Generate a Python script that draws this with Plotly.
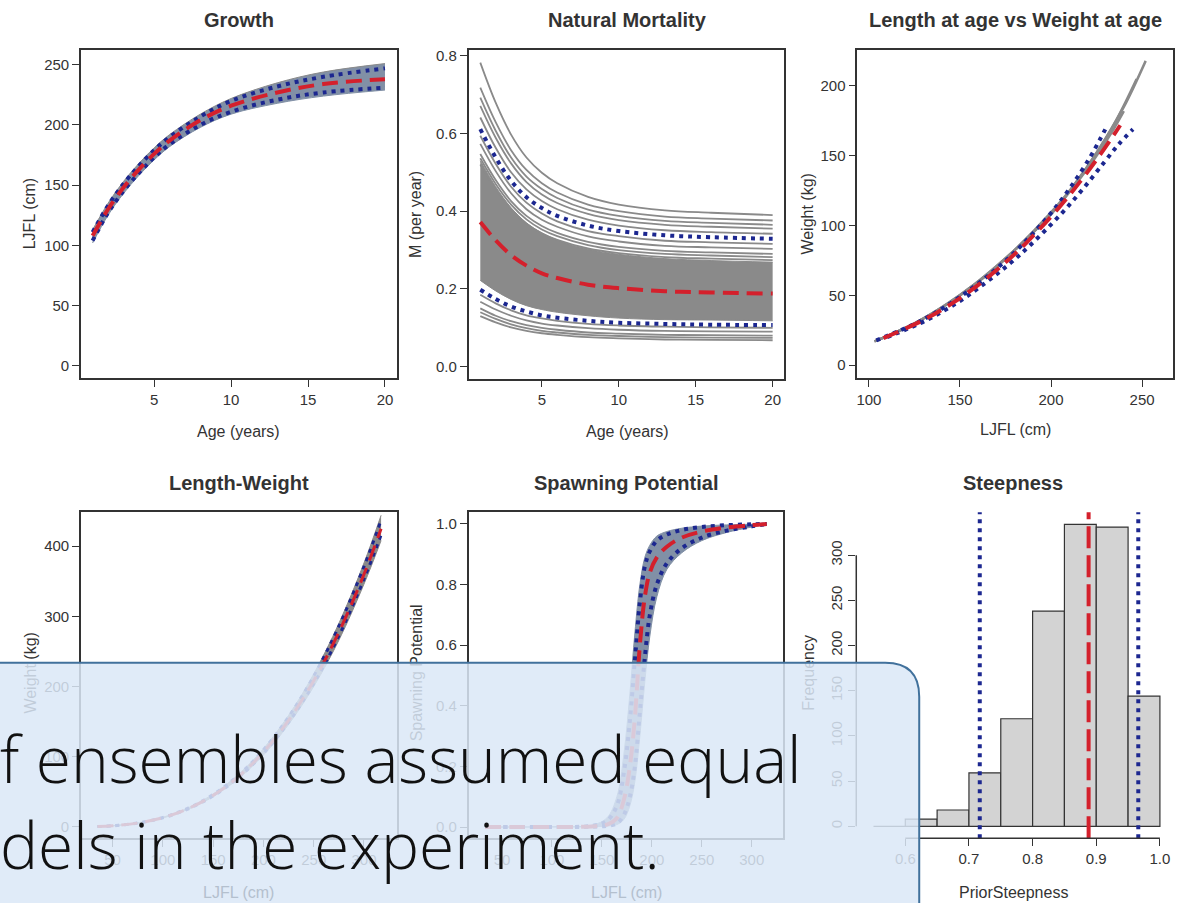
import plotly.graph_objects as go

W, H = 1184, 903

# ---------------- data ----------------
AGES = [1, 2, 3, 4, 5, 6, 8, 10, 13, 16, 20]

# Growth (LJFL cm at age)
GROWTH_MED = [108, 130, 148, 163, 176, 187, 204, 216, 227, 234, 238]
GROWTH_UP = [111, 133, 151, 166, 179, 190, 207, 220, 232, 240, 247]
GROWTH_LO = [104, 127, 145, 160, 173, 184, 200, 211, 221, 227, 231]
GROWTH_ENS_MAX = [113, 135, 153, 168, 181, 192, 209, 222, 235, 244, 251]
GROWTH_ENS_MIN = [102, 125, 143, 158, 171, 182, 198, 209, 218, 224, 229]

# Natural mortality (per year)
M_MED = [0.372, 0.325, 0.287, 0.260, 0.240, 0.228, 0.211, 0.202, 0.194, 0.191, 0.188]
M_UP = [0.611, 0.538, 0.478, 0.436, 0.408, 0.388, 0.363, 0.349, 0.338, 0.333, 0.329]
M_LO = [0.198, 0.174, 0.155, 0.142, 0.132, 0.126, 0.118, 0.113, 0.110, 0.108, 0.107]
M_DENSE_TOP = [0.530, 0.463, 0.409, 0.370, 0.344, 0.326, 0.302, 0.289, 0.278, 0.273, 0.269]
M_DENSE_BOT = [0.222, 0.195, 0.173, 0.157, 0.147, 0.140, 0.131, 0.125, 0.121, 0.120, 0.118]
M_UPPER_MEMBERS = [
    [0.782, 0.679, 0.597, 0.538, 0.499, 0.472, 0.437, 0.417, 0.402, 0.396, 0.390],
    [0.718, 0.629, 0.557, 0.506, 0.472, 0.448, 0.417, 0.400, 0.386, 0.381, 0.376],
    [0.692, 0.607, 0.538, 0.489, 0.457, 0.434, 0.404, 0.388, 0.375, 0.370, 0.365],
    [0.671, 0.589, 0.523, 0.475, 0.443, 0.421, 0.393, 0.377, 0.365, 0.360, 0.355],
    [0.641, 0.563, 0.500, 0.456, 0.426, 0.405, 0.378, 0.363, 0.351, 0.346, 0.342],
    [0.594, 0.522, 0.463, 0.422, 0.394, 0.374, 0.349, 0.336, 0.324, 0.320, 0.316],
    [0.573, 0.503, 0.446, 0.405, 0.378, 0.360, 0.335, 0.322, 0.311, 0.307, 0.303],
    [0.547, 0.480, 0.426, 0.388, 0.362, 0.344, 0.321, 0.308, 0.298, 0.294, 0.290],
    [0.536, 0.470, 0.417, 0.379, 0.353, 0.336, 0.313, 0.300, 0.290, 0.286, 0.282],
    [0.520, 0.457, 0.405, 0.368, 0.343, 0.326, 0.304, 0.292, 0.282, 0.278, 0.274],
]
M_LOWER_MEMBERS = [
    [0.185, 0.163, 0.145, 0.132, 0.124, 0.118, 0.110, 0.106, 0.103, 0.101, 0.100],
    [0.167, 0.147, 0.131, 0.119, 0.111, 0.106, 0.099, 0.095, 0.092, 0.091, 0.090],
    [0.150, 0.131, 0.117, 0.107, 0.100, 0.095, 0.088, 0.085, 0.082, 0.081, 0.080],
    [0.140, 0.123, 0.109, 0.099, 0.092, 0.088, 0.082, 0.079, 0.076, 0.075, 0.074],
    [0.130, 0.114, 0.101, 0.092, 0.086, 0.082, 0.076, 0.073, 0.070, 0.069, 0.068],
]

# Length at age vs weight at age
LAA_MED_W = [19.4, 32.4, 46.3, 60.5, 74.8, 88.4, 112.3, 131.5, 150.8, 164.0, 171.9]
LAA_UP_L = [104, 127, 145, 160, 173, 184, 200, 211, 221, 227, 231]
LAA_UP_W = [17.8, 30.8, 44.5, 58.5, 72.5, 86.0, 109.0, 128.0, 148.0, 162.0, 172.0]
LAA_LO_L = [110, 132, 150, 165, 178, 189, 206, 218, 229, 237, 245]
LAA_LO_W = [20.0, 32.5, 46.0, 60.0, 73.5, 86.5, 109.0, 127.0, 145.0, 158.0, 169.0]
LAA_ENS_A_L = [103, 125, 143, 158, 171, 182, 199, 212, 226, 240, 252]
LAA_ENS_A_W = [17, 30, 44, 58, 72, 85, 108, 128, 154, 185, 218]
LAA_ENS_B_L = [103, 125, 143, 158, 171, 182, 199, 211, 224, 236, 247]
LAA_ENS_B_W = [17, 30, 44, 58, 72, 85, 107, 126, 150, 176, 205]
LAA_ENS_C_L = [104, 126, 144, 159, 172, 183, 200, 212, 224, 233, 240]
LAA_ENS_C_W = [17.5, 30.5, 44.5, 58.5, 72.5, 86, 108, 127, 148, 166, 182]

# Length-weight
LW_L = [35, 50, 75, 100, 125, 150, 175, 200, 225, 250, 275, 300, 317]
LW_W_MED = [0.6, 1.7, 5.6, 13.3, 26.1, 45.0, 71.5, 106.7, 152.0, 208.5, 277.5, 360.0, 425.0]
LW_W_UP = [0.6, 1.8, 5.8, 13.7, 26.9, 46.4, 73.7, 110.0, 157.0, 215.0, 286.0, 371.0, 437.0]
LW_W_LO = [0.6, 1.6, 5.5, 13.0, 25.6, 44.1, 70.1, 104.6, 149.0, 204.0, 272.0, 353.0, 416.0]
LW_W_ENS_MAX = [0.6, 1.8, 5.9, 13.9, 27.2, 47.0, 74.7, 111.5, 159.0, 218.0, 290.0, 376.0, 444.0]
LW_W_ENS_MIN = [0.5, 1.6, 5.4, 12.8, 25.1, 43.2, 68.6, 102.4, 146.0, 200.0, 266.0, 346.0, 408.0]

# Spawning potential
SP_L = [33, 60, 100, 140, 155, 165, 172, 178, 183, 188, 193, 198, 205, 215, 230, 250, 275, 300, 315]
SP_MED = [0, 0, 0, 0.002, 0.008, 0.03, 0.09, 0.20, 0.36, 0.60, 0.76, 0.84, 0.89, 0.925, 0.955, 0.975, 0.988, 0.996, 1.0]
SP_UP = [0, 0, 0, 0.004, 0.02, 0.07, 0.18, 0.35, 0.55, 0.74, 0.86, 0.91, 0.945, 0.965, 0.98, 0.99, 0.996, 0.999, 1.0]
SP_LO = [0, 0, 0, 0.001, 0.004, 0.012, 0.04, 0.10, 0.20, 0.38, 0.56, 0.70, 0.80, 0.87, 0.92, 0.955, 0.978, 0.992, 1.0]
SP_ENS_MAX = [0, 0, 0.001, 0.006, 0.03, 0.10, 0.24, 0.44, 0.64, 0.80, 0.89, 0.93, 0.96, 0.975, 0.986, 0.993, 0.997, 0.999, 1.0]
SP_ENS_MIN = [0, 0, 0, 0.001, 0.003, 0.008, 0.025, 0.07, 0.15, 0.30, 0.48, 0.63, 0.76, 0.85, 0.905, 0.945, 0.972, 0.99, 1.0]

# Steepness histogram
STEEP_BIN_EDGES = [0.55, 0.60, 0.65, 0.70, 0.75, 0.80, 0.85, 0.90, 0.95, 1.00]
STEEP_COUNTS = [0, 8, 18, 59, 119, 238, 334, 331, 144]
STEEP_MEDIAN = 0.888
STEEP_QUANTILES = [0.717, 0.966]

# tick labels
T1_X = [5, 10, 15, 20]; T1_Y = [0, 50, 100, 150, 200, 250]
T2_X = [5, 10, 15, 20]; T2_Y = [0.0, 0.2, 0.4, 0.6, 0.8]
T3_X = [100, 150, 200, 250]; T3_Y = [0, 50, 100, 150, 200]
T4_X = [50, 100, 150, 200, 250, 300]; T4_Y = [0, 100, 200, 300, 400]
T5_X = [50, 100, 150, 200, 250, 300]; T5_Y = [0.0, 0.2, 0.4, 0.6, 0.8, 1.0]
T6_X = [0.6, 0.7, 0.8, 0.9, 1.0]; T6_Y = [0, 50, 100, 150, 200, 250, 300]

# ---------------- styling ----------------
GRAY = "#8a8a8a"
BAND = "#8190a6"
RED = "#d4202c"
BLUE = "#1c2790"
AXC = "#333333"
FONT = "Liberation Sans, Arial, sans-serif"
RED_DASH = "16px,8px"
BLUE_DOT = "4px,5px"
FADED = "#b4c0ce"


def px_x(v):
    return v / W


def px_y(v):
    return 1 - v / H


def xdom(a, b):
    return [a / W, b / W]


def ydom(top, bottom):
    return [1 - bottom / H, 1 - top / H]


fig = go.Figure()


def line(x, y, ax, color, width, dash=None, shape="spline", fill=None, fillcolor=None):
    fig.add_trace(go.Scatter(
        x=x, y=y, xaxis="x" + ax, yaxis="y" + ax, mode="lines",
        line=dict(color=color, width=width, dash=dash, shape=shape),
        fill=fill, fillcolor=fillcolor, showlegend=False, hoverinfo="skip"))


# Panel 1: Growth
line(AGES, GROWTH_ENS_MIN, "", BAND, 1)
line(AGES, GROWTH_ENS_MAX, "", GRAY, 1, fill="tonexty", fillcolor=BAND)
line(AGES, GROWTH_UP, "", BLUE, 4, BLUE_DOT)
line(AGES, GROWTH_LO, "", BLUE, 4, BLUE_DOT)
line(AGES, GROWTH_MED, "", RED, 4, RED_DASH)

# Panel 2: Natural mortality
line(AGES, M_DENSE_BOT, "2", GRAY, 1)
line(AGES, M_DENSE_TOP, "2", GRAY, 1, fill="tonexty", fillcolor=GRAY)
for member in M_UPPER_MEMBERS + M_LOWER_MEMBERS:
    line(AGES, member, "2", GRAY, 1.8)
line(AGES, M_UP, "2", BLUE, 4, BLUE_DOT)
line(AGES, M_LO, "2", BLUE, 4, BLUE_DOT)
line(AGES, M_MED, "2", RED, 4, RED_DASH)

# Panel 3: length at age vs weight at age
line(LAA_ENS_C_L, LAA_ENS_C_W, "3", GRAY, 2.5)
line(LAA_ENS_B_L, LAA_ENS_B_W, "3", GRAY, 2.5)
line(LAA_ENS_A_L, LAA_ENS_A_W, "3", GRAY, 2.5)
line(LAA_UP_L, LAA_UP_W, "3", BLUE, 4, BLUE_DOT)
line(LAA_LO_L, LAA_LO_W, "3", BLUE, 4, BLUE_DOT)
line(GROWTH_MED, LAA_MED_W, "3", RED, 4, RED_DASH)

# Panel 4: length-weight
line(LW_L, LW_W_ENS_MIN, "4", GRAY, 1)
line(LW_L, LW_W_ENS_MAX, "4", GRAY, 1, fill="tonexty", fillcolor=GRAY)
line(LW_L, LW_W_UP, "4", BLUE, 3, BLUE_DOT)
line(LW_L, LW_W_LO, "4", BLUE, 3, BLUE_DOT)
line(LW_L, LW_W_MED, "4", RED, 3, RED_DASH)

# Panel 5: spawning potential
line(SP_L, SP_ENS_MIN, "5", BAND, 1)
line(SP_L, SP_ENS_MAX, "5", BAND, 1, fill="tonexty", fillcolor=BAND)
line(SP_L, SP_UP, "5", BLUE, 4, BLUE_DOT)
line(SP_L, SP_LO, "5", BLUE, 4, BLUE_DOT)
line(SP_L, SP_MED, "5", RED, 4, RED_DASH)

# Panel 6: steepness histogram
centers, counts, widths = [], [], []
for i, c in enumerate(STEEP_COUNTS):
    lo, hi = STEEP_BIN_EDGES[i], STEEP_BIN_EDGES[i + 1]
    if c > 0:
        centers.append((lo + hi) / 2)
        counts.append(c)
        widths.append(hi - lo)
    else:
        line([lo, hi], [0, 0], "6", AXC, 1.2, shape="linear")
fig.add_trace(go.Bar(
    x=centers, y=counts, width=widths, xaxis="x6", yaxis="y6",
    marker=dict(color="#d3d3d3", line=dict(color=AXC, width=1.2)),
    showlegend=False, hoverinfo="skip"))

# dummy traces for the label-only overlay axes
for ya, xa in (("y7", "x4"), ("y8", "x5"), ("y9", "x6")):
    fig.add_trace(go.Scatter(x=[None], y=[None], xaxis=xa, yaxis=ya,
                             showlegend=False, hoverinfo="skip"))


# ---------------- axes ----------------
def axis(domain, rng, tickvals, anchor, fmt=None, box=True, angle=None):
    d = dict(domain=domain, range=rng, tickmode="array", tickvals=tickvals,
             ticks="outside", ticklen=7, tickwidth=1.2, tickcolor=AXC,
             showline=box, mirror=box, linecolor=AXC, linewidth=1.5,
             showgrid=False, zeroline=False, anchor=anchor, fixedrange=True,
             tickfont=dict(family=FONT, size=15, color=AXC))
    if fmt:
        d["tickformat"] = fmt
    if angle is not None:
        d["tickangle"] = angle
    return d


P1 = (80, 396, 47, 376)
P2 = (468, 784, 47, 377)
P3 = (857, 1173, 47, 376)
P4 = (80, 396, 511, 838)
P5 = (468, 783, 511, 838)
P6 = (856, 1172, 511, 838)

R4_Y = [-16, 448.3]
R5_Y = [-0.037, 1.0385]
R6_Y = [-13.2, 347.4]

layout_axes = dict(
    xaxis=axis(xdom(P1[0], P1[1]), [0.24, 20.76], T1_X, "y"),
    yaxis=axis(ydom(P1[2], P1[3]), [-9.9, 262.4], T1_Y, "x"),
    xaxis2=axis(xdom(P2[0], P2[1]), [0.24, 20.76], T2_X, "y2"),
    yaxis2=axis(ydom(P2[2], P2[3]), [-0.031, 0.815], T2_Y, "x2", fmt=".1f"),
    xaxis3=axis(xdom(P3[0], P3[1]), [93.6, 267], T3_X, "y3"),
    yaxis3=axis(ydom(P3[2], P3[3]), [-9.0, 225.9], T3_Y, "x3"),
    xaxis4=axis(xdom(P4[0], P4[1]), [18.5, 332.5], T4_X, "y4"),
    yaxis4=axis(ydom(P4[2], P4[3]), R4_Y, T4_Y, "x4"),
    xaxis5=axis(xdom(P5[0], P5[1]), [16.6, 331.6], T5_X, "y5"),
    yaxis5=axis(ydom(P5[2], P5[3]), R5_Y, T5_Y, "x5", fmt=".1f"),
    xaxis6=axis(xdom(P6[0], P6[1]), [0.523, 1.019], T6_X, "y6", fmt=".1f", box=False),
    yaxis6=axis(ydom(P6[2], P6[3]), R6_Y, T6_Y, "x6", box=False, angle=-90),
)


def label_axis(over, rng, text, xpos):
    return dict(overlaying=over, anchor="free", position=xpos / W, side="left",
                range=rng, tickmode="array", tickvals=[(rng[0] + rng[1]) / 2],
                ticktext=[text], tickangle=-90, ticks="", showline=False,
                showgrid=False, zeroline=False, fixedrange=True,
                tickfont=dict(family=FONT, size=16, color=AXC))


layout_axes["yaxis7"] = label_axis("y4", R4_Y, "Weight (kg)", 38)
layout_axes["yaxis8"] = label_axis("y5", R5_Y, "Spawning Potential", 425)
layout_axes["yaxis9"] = label_axis("y6", R6_Y, "Frequency", 817)

# ---------------- annotations ----------------
ann = []


def text(x, y, s, size=16, bold=False, angle=0, color=AXC):
    ann.append(dict(x=px_x(x), y=px_y(y), xref="paper", yref="paper", text=s,
                    showarrow=False, textangle=angle, xanchor="center", yanchor="middle",
                    font=dict(family=FONT, size=size, color=color,
                              weight="bold" if bold else "normal")))


# titles
text(238, 17, "Growth", 20, True)
text(627, 17, "Natural Mortality", 20, True)
text(1015, 17, "Length at age vs Weight at age", 20, True)
text(238, 482, "Length-Weight", 20, True)
text(626, 482, "Spawning Potential", 20, True)
text(1013, 482, "Steepness", 20, True)
# axis titles (top row)
text(238, 430, "Age (years)")
text(627, 430, "Age (years)")
text(1015, 428, "LJFL (cm)")
text(28, 211, "LJFL (cm)", angle=-90)
text(415, 212, "M (per year)", angle=-90)
text(807, 211, "Weight (kg)", angle=-90)
# bottom row x titles (under the translucent box)
text(238, 892, "LJFL (cm)", color=FADED)
text(626, 892, "LJFL (cm)", color=FADED)
text(1013, 892, "PriorSteepness")

# overlay slide text
for s, yc in (("f ensembles assumed equal", 758), ("dels in the experiment.", 844)):
    ann.append(dict(x=px_x(-3), y=px_y(yc), xref="paper", yref="paper", text=s,
                    showarrow=False, xanchor="left", yanchor="middle",
                    font=dict(family="Open Sans, Noto Sans, sans-serif", size=64,
                              color="#111111", weight=300)))

# ---------------- shapes ----------------
shapes = []
shapes.append(dict(type="line", xref="x6", yref="y6 domain", x0=STEEP_MEDIAN, x1=STEEP_MEDIAN,
                   y0=0, y1=1, line=dict(color=RED, width=4, dash="22px,7px")))
for q in STEEP_QUANTILES:
    shapes.append(dict(type="line", xref="x6", yref="y6 domain", x0=q, x1=q, y0=0, y1=1,
                       line=dict(color=BLUE, width=4, dash=BLUE_DOT)))
# R-style axis lines of the histogram spanning first..last tick
shapes.append(dict(type="line", xref="x6", yref="y6 domain", x0=T6_X[0], x1=T6_X[-1],
                   y0=0, y1=0, line=dict(color=AXC, width=1.5)))
shapes.append(dict(type="line", xref="x6 domain", yref="y6", x0=0, x1=0,
                   y0=T6_Y[0], y1=T6_Y[-1], line=dict(color=AXC, width=1.5)))

# translucent rounded text box of the slide
bx_r, bx_t, rad = 919, 662, 34
path = (f"M {px_x(-40)},{px_y(bx_t)} L {px_x(bx_r - rad)},{px_y(bx_t)} "
        f"Q {px_x(bx_r)},{px_y(bx_t)} {px_x(bx_r)},{px_y(bx_t + rad)} "
        f"L {px_x(bx_r)},{px_y(H + 40)} L {px_x(-40)},{px_y(H + 40)} Z")
shapes.append(dict(type="path", xref="paper", yref="paper", path=path,
                   fillcolor="rgba(218,232,247,0.85)",
                   line=dict(color="#41719c", width=2), layer="above"))

fig.update_layout(
    width=W, height=H, margin=dict(l=0, r=0, t=0, b=0),
    paper_bgcolor="white", plot_bgcolor="white", showlegend=False,
    annotations=ann, shapes=shapes, **layout_axes)

fig.write_html("out.html")
